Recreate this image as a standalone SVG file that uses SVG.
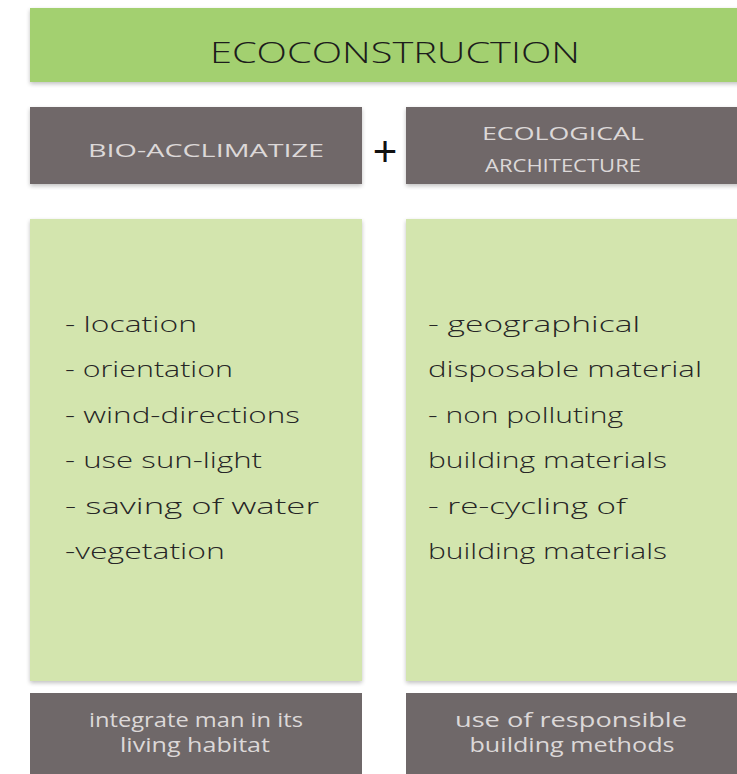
<svg xmlns="http://www.w3.org/2000/svg" width="737" height="774" viewBox="0 0 737 774">
  <defs>
    <filter id="sh" x="-5%" y="-5%" width="110%" height="115%">
      <feGaussianBlur in="SourceAlpha" stdDeviation="2"/>
      <feOffset dx="0" dy="2" result="b"/>
      <feComponentTransfer><feFuncA type="linear" slope="0.25"/></feComponentTransfer>
      <feMerge><feMergeNode/><feMergeNode in="SourceGraphic"/></feMerge>
    </filter>
  </defs>
  <style>
    .title { fill: #a3d070; }
    .gray { fill: #6f6869; }
    .pale { fill: #d3e5ae; }
    .ttl { font-family: "Open Sans", "Liberation Sans", sans-serif; font-weight: 300; font-size: 29px; fill: #1c1c1c; }
    .hd { font-family: "Open Sans", "Liberation Sans", sans-serif; font-weight: 400; font-size: 19px; fill: #dcd8d8; text-anchor: middle; }
    .ft { font-family: "Open Sans", "Liberation Sans", sans-serif; font-weight: 400; font-size: 20px; fill: #dcd8d8; text-anchor: middle; }
    .li { font-family: "Open Sans", "Liberation Sans", sans-serif; font-weight: 300; font-size: 22px; fill: #262626; }
    .plus { font-family: "Liberation Sans", sans-serif; font-weight: 400; font-size: 42px; fill: #111111; text-anchor: middle; }
  </style>
  <rect width="737" height="774" fill="#ffffff"/>

  <g id="ecoconstruction">
    <rect class="title" x="30" y="8" width="720" height="74" filter="url(#sh)"/>
    <text class="ttl" x="210" y="63" textLength="370" lengthAdjust="spacingAndGlyphs">ECOCONSTRUCTION</text>
  </g>

  <g id="bio-acclimatize">
    <rect class="gray" x="30" y="107" width="332" height="77" filter="url(#sh)"/>
    <text class="hd" x="206" y="157" textLength="236" lengthAdjust="spacingAndGlyphs">BIO-ACCLIMATIZE</text>
  </g>

  <g id="ecological-architecture">
    <rect class="gray" x="406" y="107" width="340" height="77" filter="url(#sh)"/>
    <text class="hd" x="563" y="140" textLength="162" lengthAdjust="spacingAndGlyphs">ECOLOGICAL</text>
    <text class="hd" x="563" y="172" textLength="156" lengthAdjust="spacingAndGlyphs">ARCHITECTURE</text>
  </g>

  <g id="connectors">
    <text class="plus" x="385" y="166">+</text>
  </g>

  <g id="left-list">
    <rect class="pale" x="30" y="219" width="332" height="462" filter="url(#sh)"/>
    <text class="li" x="65" y="332" textLength="132" lengthAdjust="spacingAndGlyphs">- location</text>
    <text class="li" x="65" y="377" textLength="168" lengthAdjust="spacingAndGlyphs">- orientation</text>
    <text class="li" x="65" y="423" textLength="235" lengthAdjust="spacingAndGlyphs">- wind-directions</text>
    <text class="li" x="65" y="468" textLength="197" lengthAdjust="spacingAndGlyphs">- use sun-light</text>
    <text class="li" x="65" y="514" textLength="254" lengthAdjust="spacingAndGlyphs">- saving of water</text>
    <text class="li" x="65" y="559" textLength="160" lengthAdjust="spacingAndGlyphs">-vegetation</text>
  </g>

  <g id="right-list">
    <rect class="pale" x="406" y="219" width="340" height="462" filter="url(#sh)"/>
    <text class="li" x="428" y="332" textLength="212" lengthAdjust="spacingAndGlyphs">- geographical</text>
    <text class="li" x="428" y="377" textLength="274" lengthAdjust="spacingAndGlyphs">disposable material</text>
    <text class="li" x="428" y="423" textLength="195" lengthAdjust="spacingAndGlyphs">- non polluting</text>
    <text class="li" x="428" y="468" textLength="239" lengthAdjust="spacingAndGlyphs">building materials</text>
    <text class="li" x="428" y="514" textLength="198" lengthAdjust="spacingAndGlyphs">- re-cycling of</text>
    <text class="li" x="428" y="559" textLength="239" lengthAdjust="spacingAndGlyphs">building materials</text>
  </g>

  <g id="integrate-man">
    <rect class="gray" x="30" y="693" width="332" height="90"/>
    <text class="ft" x="196" y="727" textLength="214" lengthAdjust="spacingAndGlyphs">integrate man in its</text>
    <text class="ft" x="195" y="752" textLength="150" lengthAdjust="spacingAndGlyphs">living habitat</text>
  </g>

  <g id="responsible-methods">
    <rect class="gray" x="406" y="693" width="340" height="90"/>
    <text class="ft" x="571" y="727" textLength="232" lengthAdjust="spacingAndGlyphs">use of responsible</text>
    <text class="ft" x="572" y="752" textLength="205" lengthAdjust="spacingAndGlyphs">building methods</text>
  </g>
</svg>
